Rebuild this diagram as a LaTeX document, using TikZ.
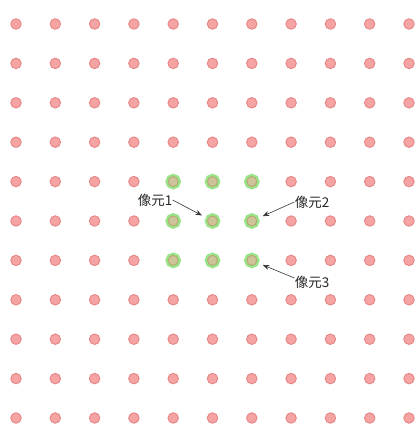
\documentclass[tikz,border=0pt]{standalone}
\usepackage{fontspec}
\usepackage{tikz}
\usetikzlibrary{arrows.meta}
\newfontfamily\cjk{Noto Sans CJK SC}

\definecolor{dotred}{HTML}{F5A3A3}
\definecolor{dotredline}{HTML}{E58585}
\definecolor{dottan}{HTML}{CFC39A}
\definecolor{dottanline}{HTML}{B7A676}
\definecolor{glowgreen}{HTML}{98E487}

\begin{document}
\begin{tikzpicture}[x=1pt, y=1pt, >={Stealth[length=6.5pt, width=5pt]}, thick,
  pixel/.style={circle, draw=dotredline, fill=dotred, line width=0.9pt, minimum size=10.5pt, inner sep=0pt},
  target/.style={circle, draw=dottanline, fill=dottan, line width=0.9pt, minimum size=10pt, inner sep=0pt,
    preaction={draw=glowgreen, line width=5.5pt}},
  tag/.style={font=\cjk\fontsize{13.5}{14}\selectfont, inner sep=0pt, text=black!85},
  pointer/.style={->, draw=black!80, line width=0.6pt, shorten >=6.5pt}]

  \useasboundingbox (0,0) rectangle (419,428);

  % grid of pixels
  \foreach \i in {0,...,10}
    \foreach \j in {0,...,10} {
      \ifnum\i>3 \ifnum\i<7 \ifnum\j>3 \ifnum\j<7
        \def\kind{target}
      \else \def\kind{pixel} \fi
      \else \def\kind{pixel} \fi
      \else \def\kind{pixel} \fi
      \else \def\kind{pixel} \fi
      \node[\kind] (p-\i-\j) at (16+39.3*\i, 404-39.4*\j) {};
    }

  \node[tag] (lab1) at (155,228) {像元1};
  \node[tag] (lab2) at (312,226) {像元2};
  \node[tag] (lab3) at (312,146) {像元3};

  \path (lab1.east) edge [pointer] (p-5-5)
        (lab2.west) edge [pointer] (p-6-5)
        ([yshift=4pt]lab3.west) edge [pointer] (p-6-6);

\end{tikzpicture}
\end{document}
